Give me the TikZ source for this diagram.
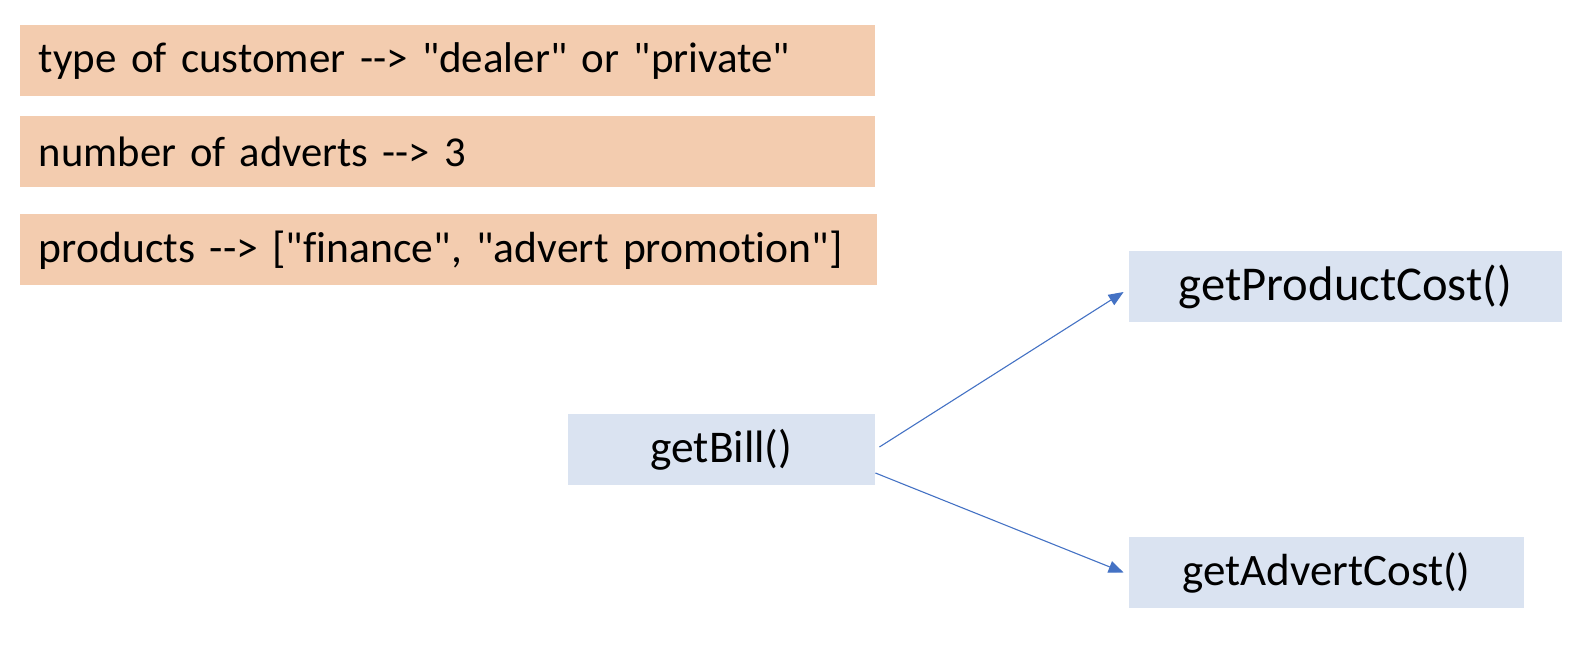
\documentclass[tikz,border=0pt]{standalone}
\usepackage{fontspec}
\setmainfont{Carlito}[Ligatures={TeXOff,CommonOff}]
\usetikzlibrary{arrows.meta}
\definecolor{peach}{HTML}{F3CCAF}
\definecolor{paleblue}{HTML}{DAE3F1}
\definecolor{arrowblue}{HTML}{4472C4}
\tikzset{
  infobox/.style={fill=peach, anchor=north west, minimum height=35.5pt,
    inner xsep=9.25pt, inner ysep=0pt, text width=#1, align=left},
  methodbox/.style={fill=paleblue, minimum height=35.5pt, minimum width=#1,
    inner sep=0pt},
  callarrow/.style={draw=arrowblue, line width=0.55pt,
    -{Triangle[length=7.5pt,width=6pt]}}
}
\begin{document}
\begin{tikzpicture}[x=0.5pt,y=-0.5pt]
\useasboundingbox (0,0) rectangle (1588,646);
\node[infobox=409pt, font=\fontsize{21.5}{25}\selectfont] (cust) at (20,25) {type of customer --> "dealer" or "private"};
\node[infobox=409pt, font=\fontsize{21.3}{25}\selectfont] (adv) at (20,116) {number of adverts --> 3};
\node[infobox=410pt, font=\fontsize{21.8}{25}\selectfont] (prod) at (20,214) {products --> ["finance", "advert promotion"]};
\node[methodbox=153.5pt, font=\fontsize{22.7}{27}\selectfont] (bill) at (721.5,449.5) {getBill()};
\node[methodbox=216.5pt, font=\fontsize{24.3}{29}\selectfont] (pcost) at (1345.5,286.5) {getProductCost()};
\node[methodbox=197.5pt, font=\fontsize{22.5}{27}\selectfont] (acost) at (1326.5,572.5) {getAdvertCost()};
\coordinate (s1) at ([xshift=2pt,yshift=1.25pt]bill.east);
\coordinate (s2) at ([yshift=-11.75pt]bill.east);
\coordinate (e1) at ([xshift=-2.5pt,yshift=-2.75pt]pcost.west);
\coordinate (e2) at ([xshift=-2.5pt]acost.west);
\draw[callarrow] (s1) -- (e1);
\draw[callarrow] (s2) -- (e2);
\end{tikzpicture}
\end{document}
